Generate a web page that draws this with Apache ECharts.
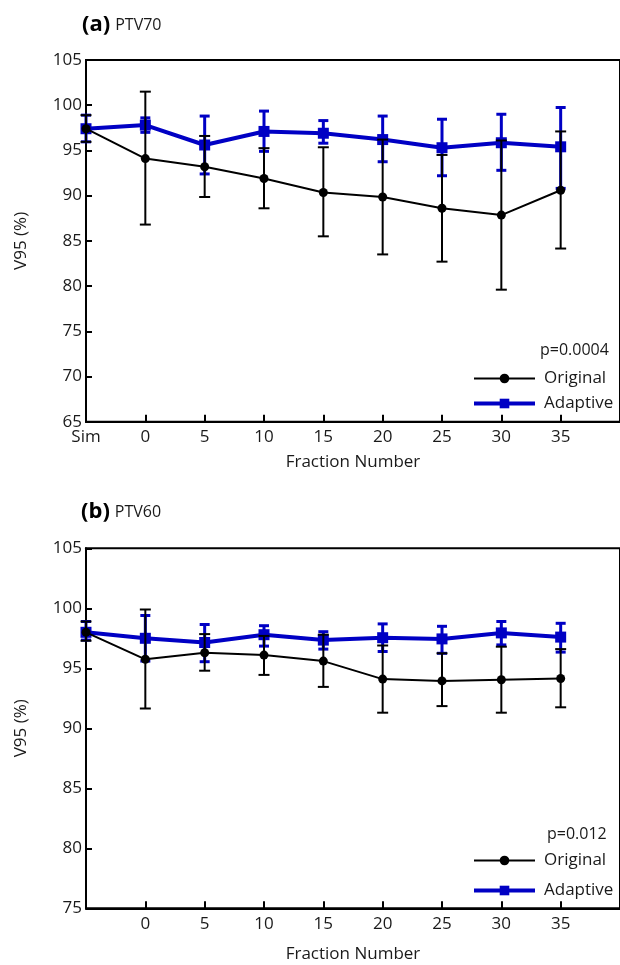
<!DOCTYPE html>
<html>
<head>
<meta charset="utf-8">
<script src="https://cdn.jsdelivr.net/npm/echarts@6/dist/echarts.min.js"></script>
<style>
  html, body { margin: 0; padding: 0; background: #fff; }
  #main { width: 620px; height: 965px; }
</style>
</head>
<body>
<div id="main"></div>
<script>
// x position -5 stands for "Sim"
const fractions = [-5, 0, 5, 10, 15, 20, 25, 30, 35];
const xTicks = [0, 5, 10, 15, 20, 25, 30, 35];

// (a) PTV70
const origMeanA = [97.4, 94.1, 93.2, 91.9, 90.35, 89.85, 88.6, 87.85, 90.6];
const origHiA   = [98.9, 101.5, 96.6, 95.25, 95.35, 96.2, 94.5, 96.1, 97.1];
const origLoA   = [95.95, 86.8, 89.85, 88.6, 85.5, 83.5, 82.7, 79.6, 84.15];
const adapMeanA = [97.4, 97.8, 95.6, 97.1, 96.9, 96.2, 95.3, 95.85, 95.4];
const adapHiA   = [98.9, 98.6, 98.8, 99.35, 98.3, 98.8, 98.45, 99.0, 99.75];
const adapLoA   = [95.95, 97.0, 92.4, 94.9, 95.8, 93.75, 92.2, 92.8, 90.8];

// (b) PTV60
const origMeanB = [98.0, 95.75, 96.3, 96.1, 95.6, 94.1, 93.95, 94.05, 94.15];
const origHiB   = [98.9, 99.9, 97.85, 97.7, 97.8, 96.9, 96.25, 96.8, 96.6];
const origLoB   = [97.3, 91.65, 94.8, 94.45, 93.45, 91.3, 91.85, 91.3, 91.75];
const adapMeanB = [98.0, 97.5, 97.15, 97.8, 97.35, 97.55, 97.45, 97.95, 97.6];
const adapHiB   = [98.9, 99.4, 98.65, 98.55, 98.05, 98.7, 98.5, 98.9, 98.75];
const adapLoB   = [97.35, 95.6, 95.55, 96.85, 96.6, 96.4, 96.25, 96.95, 96.35];

const FONT = '"Open Sans", "Noto Sans", sans-serif';
const BLUE = '#0000c4';
const TXT = '#1a1a1a';

function pts(mean) {
  return fractions.map((f, i) => [f, mean[i]]);
}
function bars(lo, hi) {
  return fractions.map((f, i) => [f, lo[i], hi[i]]);
}
function errorBars(color, width, capW) {
  return function (params, api) {
    const x = api.value(0);
    const lo = api.coord([x, api.value(1)]);
    const hi = api.coord([x, api.value(2)]);
    const style = { stroke: color, lineWidth: width };
    return {
      type: 'group',
      children: [
        { type: 'line', shape: { x1: lo[0], y1: lo[1], x2: hi[0], y2: hi[1] }, style: style },
        { type: 'line', shape: { x1: hi[0] - capW / 2, y1: hi[1], x2: hi[0] + capW / 2, y2: hi[1] }, style: style },
        { type: 'line', shape: { x1: lo[0] - capW / 2, y1: lo[1], x2: lo[0] + capW / 2, y2: lo[1] }, style: style }
      ]
    };
  };
}

function xAxis(idx, showSim, gap) {
  return {
    type: 'value', gridIndex: idx, min: -5, max: 40, interval: 5,
    name: 'Fraction Number', nameLocation: 'middle', nameGap: gap,
    nameTextStyle: { fontFamily: FONT, fontSize: 17, color: TXT },
    axisLine: { show: true, onZero: false, lineStyle: { color: '#000', width: 2 } },
    axisTick: { show: true, inside: true, length: 7, customValues: xTicks, lineStyle: { color: '#000', width: 2 } },
    axisLabel: {
      fontFamily: FONT, fontSize: 17, color: TXT, margin: 7,
      customValues: showSim ? [-5].concat(xTicks) : xTicks,
      formatter: v => (v === -5 ? 'Sim' : String(v))
    },
    splitLine: { show: false }
  };
}
function yAxis(idx, min) {
  return {
    type: 'value', gridIndex: idx, min: min, max: 105, interval: 5,
    name: 'V95 (%)', nameLocation: 'middle', nameGap: 56, nameRotate: 90,
    nameTextStyle: { fontFamily: FONT, fontSize: 17, color: TXT },
    axisLine: { show: true, onZero: false, lineStyle: { color: '#000', width: 2 } },
    axisTick: { show: true, inside: true, length: 6, lineStyle: { color: '#000', width: 2 } },
    axisLabel: { fontFamily: FONT, fontSize: 17, color: TXT, margin: 4 },
    splitLine: { show: false }
  };
}

function panel(idx, om, oh, ol, am, ah, al) {
  return [
    { name: 'Adaptive err', type: 'custom', xAxisIndex: idx, yAxisIndex: idx, z: 1,
      renderItem: errorBars(BLUE, 3, 10), encode: { x: 0, y: [1, 2] }, data: bars(al, ah) },
    { name: 'Adaptive', type: 'line', xAxisIndex: idx, yAxisIndex: idx, z: 2,
      symbol: 'rect', symbolSize: 11, lineStyle: { color: BLUE, width: 4 },
      itemStyle: { color: BLUE }, data: pts(am) },
    { name: 'Original err', type: 'custom', xAxisIndex: idx, yAxisIndex: idx, z: 3,
      renderItem: errorBars('#000', 2, 11), encode: { x: 0, y: [1, 2] }, data: bars(ol, oh) },
    { name: 'Original', type: 'line', xAxisIndex: idx, yAxisIndex: idx, z: 4,
      symbol: 'circle', symbolSize: 9, lineStyle: { color: '#000', width: 2 },
      itemStyle: { color: '#000' }, data: pts(om) }
  ];
}

function legend(top, gap) {
  return {
    left: 467, top: top, orient: 'vertical', itemWidth: 61, itemHeight: 12, itemGap: gap,
    data: [
      { name: 'Original', lineStyle: { color: '#000', width: 2 } },
      { name: 'Adaptive', lineStyle: { color: BLUE, width: 4 } }
    ],
    selectedMode: false,
    textStyle: { fontFamily: FONT, fontSize: 17, color: TXT, padding: [0, 0, 0, 4] }
  };
}

function titleText(letter, label) {
  return {
    text: '{b|' + letter + '} {n|' + label + '}',
    textStyle: { rich: {
      b: { fontFamily: FONT, fontSize: 22, fontWeight: 'bold', color: '#000' },
      n: { fontFamily: FONT, fontSize: 16, fontWeight: 'normal', color: TXT }
    } }
  };
}

const chart = echarts.init(document.getElementById('main'));
chart.setOption({
  animation: false,
  backgroundColor: '#fff',
  title: [
    Object.assign({ left: 77, top: 9 }, titleText('(a)', 'PTV70')),
    Object.assign({ left: 76, top: 496 }, titleText('(b)', 'PTV60'))
  ],
  legend: [legend(365, 8), legend(847, 13)],
  graphic: [
    { type: 'text', left: 540, top: 342, style: { text: 'p=0.0004', font: '16px ' + FONT, fill: TXT } },
    { type: 'text', left: 547, top: 826, style: { text: 'p=0.012', font: '16px ' + FONT, fill: TXT } }
  ],
  grid: [
    { left: 86, top: 60, width: 544.5, height: 361.7, show: true, borderColor: '#000', borderWidth: 2 },
    { left: 86, top: 548.3, width: 544.5, height: 360, show: true, borderColor: '#000', borderWidth: 2 }
  ],
  xAxis: [xAxis(0, true, 32), xAxis(1, false, 37)],
  yAxis: [yAxis(0, 65), yAxis(1, 75)],
  series: panel(0, origMeanA, origHiA, origLoA, adapMeanA, adapHiA, adapLoA)
    .concat(panel(1, origMeanB, origHiB, origLoB, adapMeanB, adapHiB, adapLoB))
});
</script>
</body>
</html>
